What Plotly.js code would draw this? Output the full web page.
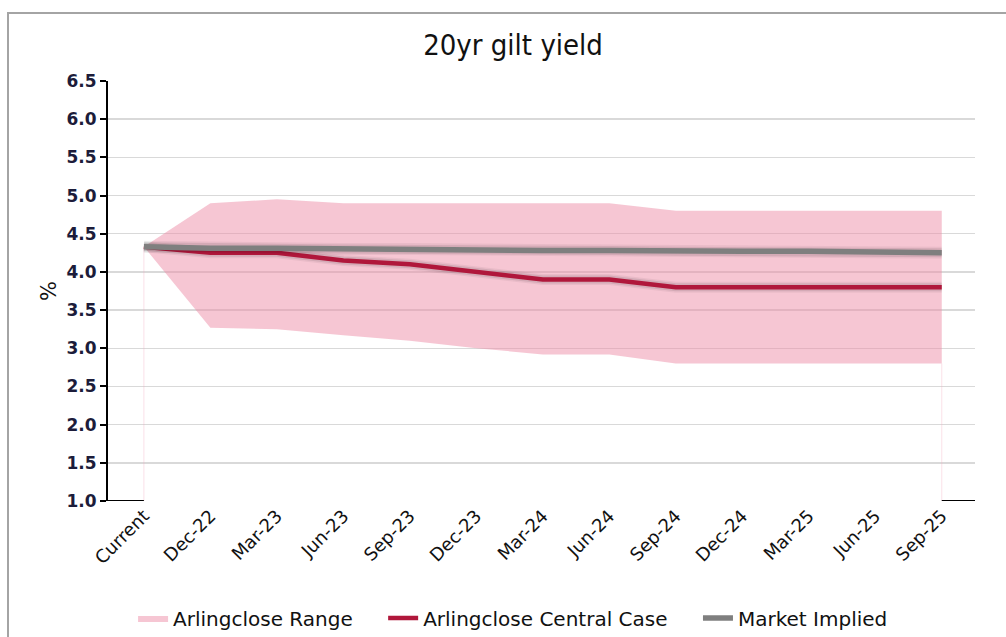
<!DOCTYPE html>
<html>
<head>
<meta charset="utf-8">
<script src="https://cdn.plot.ly/plotly-3.0.1.min.js"></script>
<style>
  html, body { margin: 0; padding: 0; background: #fff; }
  #wrap { position: relative; width: 1006px; height: 637px; overflow: hidden; }
  #chart { position: absolute; left: 0; top: 0; width: 1006px; height: 637px; }
  #frame { position: absolute; left: 7px; top: 12px; width: 1010px; height: 640px;
           border: 2px solid #a4a4a4; box-sizing: border-box; pointer-events: none; }
</style>
</head>
<body>
<div id="wrap">
  <div id="chart"></div>
  <div id="frame"></div>
</div>
<script>
const categories = ["Current","Dec-22","Mar-23","Jun-23","Sep-23","Dec-23","Mar-24","Jun-24","Sep-24","Dec-24","Mar-25","Jun-25","Sep-25"];
const rangeUpper = [4.33, 4.90, 4.95, 4.90, 4.90, 4.90, 4.90, 4.90, 4.80, 4.80, 4.80, 4.80, 4.80];
const rangeLower = [4.33, 3.27, 3.25, 3.17, 3.10, 3.00, 2.92, 2.92, 2.80, 2.80, 2.80, 2.80, 2.80];
const centralCase = [4.33, 4.25, 4.25, 4.15, 4.10, 4.00, 3.90, 3.90, 3.80, 3.80, 3.80, 3.80, 3.80];
const marketImplied = [4.33, 4.31, 4.31, 4.30, 4.30, 4.29, 4.28, 4.28, 4.27, 4.27, 4.27, 4.26, 4.25];
const yTicks = [1.0, 1.5, 2.0, 2.5, 3.0, 3.5, 4.0, 4.5, 5.0, 5.5, 6.0, 6.5];
const seriesNames = ["Arlingclose Range", "Arlingclose Central Case", "Market Implied"];

const xIdx = categories.map((c, i) => i);
const last = xIdx.length - 1;
const yMin = yTicks[0];
const PINK = "rgba(237,141,167,0.5)";
const RED = "#b0173b";
const GREY = "#7f7f7f";
const PAD = "\u00a0\u00a0\u00a0\u00a0";

const traces = [
  // faint area edges down to the axis (as in the original area chart)
  { x: [xIdx[0], xIdx[0]], y: [yMin, rangeLower[0]], type: "scatter", mode: "lines",
    line: { width: 1, color: "rgba(240,170,190,0.35)" }, showlegend: false, hoverinfo: "skip" },
  { x: [xIdx[last], xIdx[last]], y: [yMin, rangeLower[last]], type: "scatter", mode: "lines",
    line: { width: 1, color: "rgba(240,170,190,0.35)" }, showlegend: false, hoverinfo: "skip" },
  { x: xIdx, y: rangeLower, type: "scatter", mode: "lines", line: { width: 0, color: PINK },
    showlegend: false, hoverinfo: "skip" },
  { x: xIdx, y: rangeUpper, type: "scatter", mode: "lines", fill: "tonexty", fillcolor: PINK,
    line: { width: 0, color: PINK }, name: seriesNames[0] + PAD },
  // soft shadows
  { x: xIdx, y: centralCase, type: "scatter", mode: "lines", line: { width: 11, color: "rgba(0,0,0,0.05)" },
    showlegend: false, hoverinfo: "skip" },
  { x: xIdx, y: centralCase, type: "scatter", mode: "lines", line: { width: 8, color: "rgba(0,0,0,0.09)" },
    showlegend: false, hoverinfo: "skip" },
  { x: xIdx, y: centralCase, type: "scatter", mode: "lines", line: { width: 4.5, color: RED },
    name: seriesNames[1] + PAD },
  { x: xIdx, y: marketImplied, type: "scatter", mode: "lines", line: { width: 12, color: "rgba(0,0,0,0.05)" },
    showlegend: false, hoverinfo: "skip" },
  { x: xIdx, y: marketImplied, type: "scatter", mode: "lines", line: { width: 9, color: "rgba(0,0,0,0.09)" },
    showlegend: false, hoverinfo: "skip" },
  { x: xIdx, y: marketImplied, type: "scatter", mode: "lines", line: { width: 5.5, color: GREY },
    name: seriesNames[2] }
];

const layout = {
  width: 1006, height: 637,
  paper_bgcolor: "rgba(0,0,0,0)", plot_bgcolor: "#fff",
  margin: { l: 108, r: 31, t: 81, b: 136, autoexpand: false },
  font: { family: "DejaVu Sans, sans-serif", color: "#111" },
  title: { text: "20yr gilt yield", x: 0.51, xanchor: "center", y: 0.929, yanchor: "middle",
           font: { size: 29, color: "#111", family: "DejaVu Sans Condensed, DejaVu Sans, sans-serif" } },
  xaxis: {
    type: "linear", range: [-0.54, 12.5], automargin: false,
    tickmode: "array", tickvals: xIdx, ticktext: categories, tickangle: -45,
    showgrid: false, zeroline: false, showline: false, ticks: "",
    tickfont: { size: 18, color: "#111", family: "DejaVu Sans, sans-serif" }
  },
  yaxis: {
    range: [1.0, 6.5], tickmode: "array", tickvals: yTicks, automargin: false,
    ticktext: yTicks.map(v => v.toFixed(1)),
    showgrid: true, gridcolor: "#d9d9d9", gridwidth: 1.5, zeroline: false,
    showline: true, linecolor: "#000", linewidth: 2,
    ticks: "outside", ticklen: 6, tickwidth: 2, tickcolor: "#000",
    tickfont: { size: 17, color: "#1c1c3a", family: "DejaVu Sans, sans-serif", weight: "bold" },
    title: { text: "%", standoff: 4, font: { size: 21, color: "#111" } }
  },
  legend: {
    orientation: "h", xref: "container", yref: "container",
    x: 0.51, xanchor: "center", y: 0.030, yanchor: "middle",
    font: { size: 20, color: "#111", family: "DejaVu Sans, sans-serif" }, itemwidth: 30, traceorder: "normal"
  },
  shapes: [
    { type: "line", xref: "x", yref: "y", x0: -0.54, x1: 0, y0: 1.0, y1: 1.0, line: { color: "#000", width: 2 } },
    { type: "line", xref: "x", yref: "y", x0: 12, x1: 12.5, y0: 1.0, y1: 1.0, line: { color: "#000", width: 2 } }
  ],
  showlegend: true
};

Plotly.newPlot("chart", traces, layout, { displayModeBar: false, staticPlot: true });
</script>
</body>
</html>
